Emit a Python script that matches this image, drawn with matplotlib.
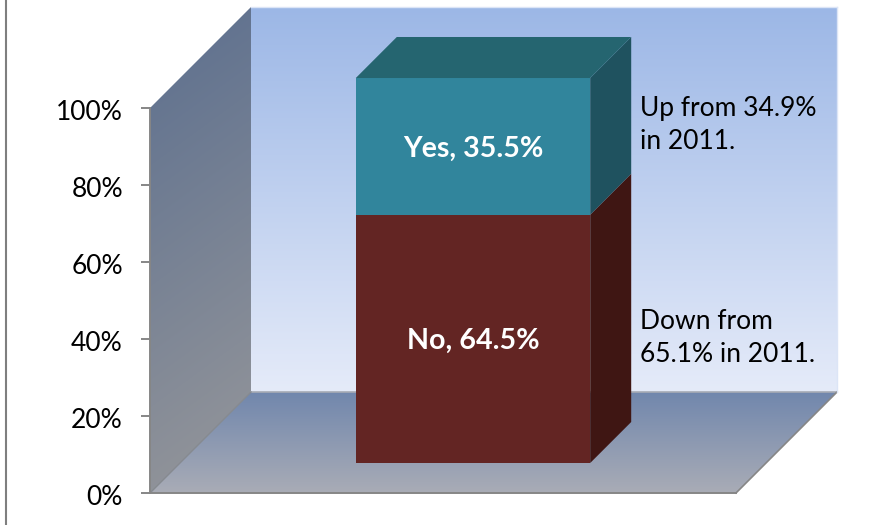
#!/usr/bin/env python3
"""Stacked 3D-style column showing the yes/no split with a note per segment."""

import matplotlib

matplotlib.use("Agg")
import matplotlib.pyplot as plt
import numpy as np
from matplotlib.patches import Polygon
from matplotlib.transforms import ScaledTranslation

WIDTH_PX, HEIGHT_PX = 887, 525

# front plane of the plot box, in pixels
LEFT_PX, RIGHT_PX = 150, 736
BASE_PX, TOP_PX = 493, 108
DEPTH_PX = 101

segments = ["No", "Yes"]
values = [64.5, 35.5]
notes = ["Down from\n65.1% in 2011.", "Up from 34.9%\nin 2011."]
y_ticks = [0, 20, 40, 60, 80, 100]
y_tick_labels = ["0%", "20%", "40%", "60%", "80%", "100%"]

FRONT_COLORS = ["#632523", "#31859C"]
SIDE_COLORS = ["#3F1613", "#1F525F"]
TOP_COLOR = "#256570"
AXIS_COLOR = "#868686"

plt.rcParams["font.family"] = ["Lato", "DejaVu Sans"]

x_unit = RIGHT_PX - LEFT_PX
y_unit = (BASE_PX - TOP_PX) / 100
depth_x = DEPTH_PX / x_unit
depth_y = DEPTH_PX / y_unit


def project(x, y, d=0.0):
    return x + d * depth_x, y + d * depth_y


def gradient_fill(ax, corners, top_color, bottom_color, angle=0.0, zorder=1):
    """Fill a polygon with a vertical gradient, optionally sheared sideways."""
    pts = np.array(corners)
    x0, x1 = pts[:, 0].min(), pts[:, 0].max()
    y0, y1 = pts[:, 1].min(), pts[:, 1].max()
    ramp_y = np.linspace(0, 1, 256)[:, None]
    ramp_x = np.linspace(0, 1, 64)[None, :]
    mix = np.clip(ramp_y + angle * (ramp_x - 0.5), 0, 1)[..., None]
    top = np.array(matplotlib.colors.to_rgb(top_color))
    bottom = np.array(matplotlib.colors.to_rgb(bottom_color))
    img = ax.imshow(
        top * (1 - mix) + bottom * mix,
        extent=(x0, x1, y0, y1),
        origin="upper",
        aspect="auto",
        interpolation="bilinear",
        zorder=zorder,
    )
    clip = Polygon(corners, closed=True, transform=ax.transData, facecolor="none", edgecolor="none")
    ax.add_patch(clip)
    img.set_clip_path(clip)


fig = plt.figure(figsize=(WIDTH_PX / 100, HEIGHT_PX / 100), dpi=100)
ax = fig.add_axes([0, 0, 1, 1])
ax.patch.set_visible(False)

# box walls
back_wall = [project(0, 0, 1), project(1, 0, 1), project(1, 100, 1), project(0, 100, 1)]
left_wall = [project(0, 0), project(0, 0, 1), project(0, 100, 1), project(0, 100)]
floor = [project(0, 0), project(1, 0), project(1, 0, 1), project(0, 0, 1)]
gradient_fill(ax, back_wall, "#9CB7E6", "#E5EBF9")
gradient_fill(ax, left_wall, "#5F718F", "#93959A", angle=0.15)
gradient_fill(ax, floor, "#7187AD", "#A9ACB6")

ax.plot(*zip(project(0, 0, 1), project(1, 0, 1)), color="#A6ABB5", lw=1.2, zorder=2)
ax.plot(*zip(project(0, 0), project(0, 0, 1)), color="#868A90", lw=1.0, zorder=2)
ax.plot(*zip(project(1, 0), project(1, 0, 1)), color=AXIS_COLOR, lw=1.2, zorder=2)
ax.plot(*zip(project(1, 0, 1), project(1, 100, 1)), color="#DCE5F6", lw=1.0, zorder=2)
ax.plot(*zip(project(0, 100, 1), project(1, 100, 1)), color="#DCE5F6", lw=1.0, zorder=2)

# stacked column
bar_left, bar_right = 0.3, 0.7
d_front, d_back = 0.297, 0.703
bottom = 0.0
for value, front, side in zip(values, FRONT_COLORS, SIDE_COLORS):
    top = bottom + value
    ax.add_patch(
        Polygon(
            [project(bar_left, bottom, d_front), project(bar_right, bottom, d_front),
             project(bar_right, top, d_front), project(bar_left, top, d_front)],
            closed=True, facecolor=front, edgecolor="none", zorder=3,
        )
    )
    ax.add_patch(
        Polygon(
            [project(bar_right, bottom, d_front), project(bar_right, bottom, d_back),
             project(bar_right, top, d_back), project(bar_right, top, d_front)],
            closed=True, facecolor=side, edgecolor="none", zorder=3,
        )
    )
    bottom = top
ax.add_patch(
    Polygon(
        [project(bar_left, bottom, d_front), project(bar_right, bottom, d_front),
         project(bar_right, bottom, d_back), project(bar_left, bottom, d_back)],
        closed=True, facecolor=TOP_COLOR, edgecolor="none", zorder=3,
    )
)

# segment labels sit on the front face, notes to the right of the column
bottom = 0.0
for name, value in zip(segments, values):
    cx, cy = project((bar_left + bar_right) / 2, bottom + value / 2, d_front)
    ax.annotate(f"{name}, {value}%", (cx, cy), xytext=(0, -1.5), textcoords="offset points",
                ha="center", va="center", color="white", fontsize=20.6, fontweight="bold", zorder=4)
    bottom += value

note_x = (640 - LEFT_PX) / x_unit
note_y = [(BASE_PX - 338) / y_unit, (BASE_PX - 125) / y_unit]
for note, y in zip(notes, note_y):
    ax.text(note_x, y, note, ha="left", va="center", color="black", fontsize=19,
            linespacing=1.42, zorder=4)

# axes keep the front plane in data units, the rest of the figure is margin
ax.set_xlim(-LEFT_PX / x_unit, (WIDTH_PX - LEFT_PX) / x_unit)
ax.set_ylim(-(HEIGHT_PX - BASE_PX) / y_unit, BASE_PX / y_unit)
ax.spines[["top", "right"]].set_visible(False)
for name in ["left", "bottom"]:
    ax.spines[name].set_position(("data", 0))
    ax.spines[name].set_color(AXIS_COLOR)
    ax.spines[name].set_linewidth(1.4)
ax.spines["left"].set_bounds(0, 100)
ax.spines["bottom"].set_bounds(0, 1)
ax.set_xticks([])
ax.set_yticks(y_ticks)
ax.set_yticklabels(y_tick_labels, fontsize=19, color="black")
ax.tick_params(axis="y", direction="out", length=6.5, width=1.4, color=AXIS_COLOR, pad=13)
label_shift = ScaledTranslation(0, -1.5 / 72, fig.dpi_scale_trans)
for label in ax.get_yticklabels():
    label.set_transform(label.get_transform() + label_shift)

# slide frame along the left edge
fig.add_artist(plt.Line2D([6.5 / WIDTH_PX] * 2, [0, 1], color="#7F7F7F", lw=1.5))

fig.savefig("out.png", dpi=100)
plt.close(fig)
